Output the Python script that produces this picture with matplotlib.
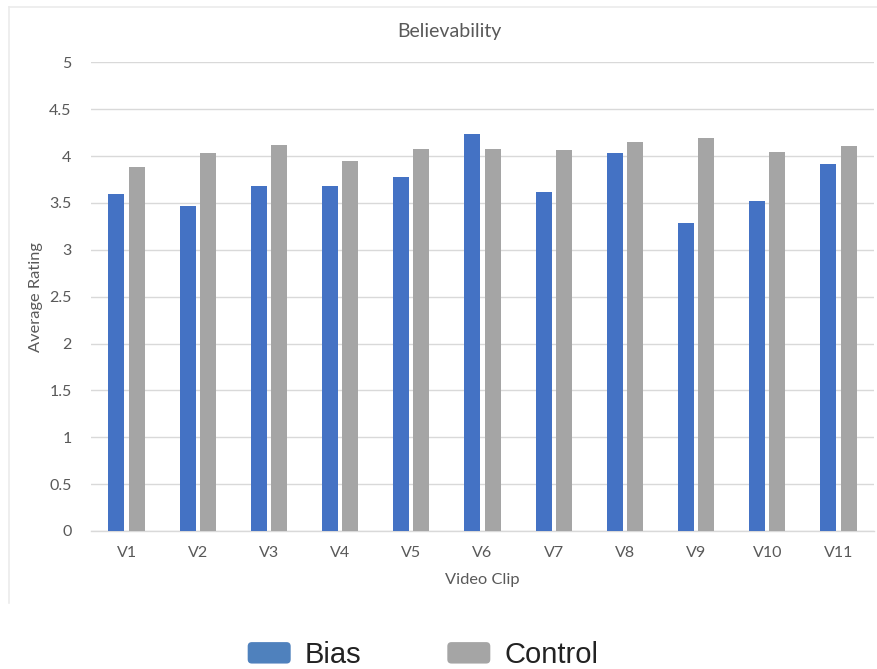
import matplotlib
matplotlib.use("Agg")
import matplotlib.pyplot as plt
from matplotlib.patches import Patch, FancyBboxPatch
from matplotlib.legend_handler import HandlerPatch
from matplotlib.lines import Line2D
import numpy as np

clips = ["V1", "V2", "V3", "V4", "V5", "V6", "V7", "V8", "V9", "V10", "V11"]
bias = [3.60, 3.47, 3.68, 3.68, 3.78, 4.24, 3.62, 4.03, 3.29, 3.52, 3.91]
control = [3.88, 4.03, 4.12, 3.95, 4.07, 4.08, 4.06, 4.15, 4.19, 4.04, 4.11]
yticks = [0, 0.5, 1, 1.5, 2, 2.5, 3, 3.5, 4, 4.5, 5]

W, H = 877, 669
fig = plt.figure(figsize=(W / 100, H / 100), dpi=100)
fig.patch.set_facecolor("white")

# chart frame lines (top and left edges)
fig.add_artist(Line2D([9 / W, 1.0], [1 - 7 / H, 1 - 7 / H], color="#EBEBEB", lw=1.2))
fig.add_artist(Line2D([9 / W, 9 / W], [1 - 7 / H, 1 - 603 / H], color="#EBEBEB", lw=1.2))

left, right, top, bottom = 91, 874, 62.3, 531
ax = fig.add_axes([left / W, 1 - bottom / H, (right - left) / W, (bottom - top) / H])

x = np.arange(len(clips))
bw = 0.225
gap = 0.06
ax.bar(x - (bw + gap) / 2, bias, width=bw, color="#4472C4", zorder=3)
ax.bar(x + (bw + gap) / 2, control, width=bw, color="#A5A5A5", zorder=3)

ax.set_xlim(-0.5, len(clips) - 0.5)
ax.set_ylim(0, 5)
ax.set_yticks(yticks)
ax.set_yticklabels([f"{v:g}" for v in yticks])
ax.set_xticks(x)
ax.set_xticklabels(clips)

for lab in ax.get_xticklabels() + ax.get_yticklabels():
    lab.set_fontfamily("Lato")
    lab.set_fontsize(11.5)
    lab.set_color("#595959")
ax.tick_params(axis="both", length=0)
ax.tick_params(axis="y", pad=14)
ax.tick_params(axis="x", pad=11)

ax.grid(axis="y", color="#D9D9D9", lw=1.0, zorder=0)
for s in ["top", "right", "left"]:
    ax.spines[s].set_visible(False)
ax.spines["bottom"].set_color("#D9D9D9")
ax.spines["bottom"].set_linewidth(1.0)

fig.text(449 / W, 1 - 31 / H, "Believability", ha="center", va="center",
         fontfamily="Lato", fontsize=14, color="#595959")
fig.text(482.5 / W, 1 - 580 / H, "Video Clip", ha="center", va="center",
         fontfamily="Lato", fontsize=11.8, color="#595959")
fig.text(36 / W, 1 - 296.6 / H, "Average Rating", ha="center", va="center",
         rotation=90, fontfamily="Lato", fontsize=11.8, color="#595959")


class RoundedHandler(HandlerPatch):
    def create_artists(self, legend, orig_handle, xdescent, ydescent,
                       width, height, fontsize, trans):
        p = FancyBboxPatch((-xdescent, -ydescent), width, height,
                           boxstyle="round,pad=0,rounding_size=3",
                           facecolor=orig_handle.get_facecolor(),
                           edgecolor="none", transform=trans)
        return [p]


handles = [Patch(facecolor="#4F81BD", label="Bias"),
           Patch(facecolor="#A5A5A5", label="Control")]
fs = 21
fs_px = fs * 100 / 72
leg = fig.legend(handles=handles, loc="center", ncol=2,
                 bbox_to_anchor=(423 / W, 1 - 655 / H), frameon=False,
                 prop={"family": "Liberation Sans", "size": fs},
                 handlelength=43 / fs_px, handleheight=22 / fs_px,
                 handletextpad=14 / fs_px, columnspacing=86 / fs_px,
                 borderpad=0, borderaxespad=0,
                 handler_map={Patch: RoundedHandler()})
for t in leg.get_texts():
    t.set_color("#222222")

fig.savefig("out.png", dpi=100, facecolor="white")
